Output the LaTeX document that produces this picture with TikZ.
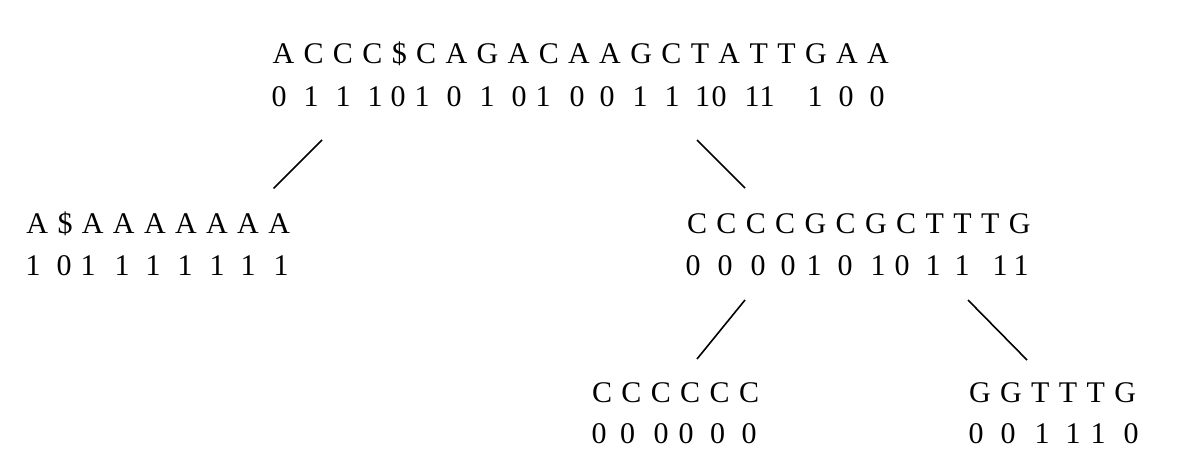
\documentclass[tikz,border=0pt]{standalone}
\usepackage{fontspec}
\setmainfont{Liberation Serif}
\begin{document}
\begin{tikzpicture}[x=1pt,y=-1pt,
  seq/.style={inner sep=0pt, outer sep=0pt, anchor=base west,
    font=\fontsize{30}{36}\selectfont, execute at begin node={\spaceskip=9.4pt\relax}},
  bit/.style={inner sep=0pt, outer sep=0pt, anchor=base,
    font=\fontsize{30}{36}\selectfont},
  edge/.style={line width=1.6pt}]
\useasboundingbox (0,0) rectangle (1194,476);
% root
\node[seq] (rootL) at (272.5,63.5) {A C C C \$ C A G A C A A G C T A T T G A A};
\foreach \x/\b [count=\i] in {279/0,311/1,343/1,375/1,398/0,422/1,454/0,487/1,519/0,543/1,577/0,607/0,640/1,672/1,702.5/1,719/0,752/1,767/1,815/1,846/0,877/0}
  \node[bit] (rootD\i) at (\x,106.5) {\b};
% left child
\node[seq] (leftL) at (26.5,233) {A \$ A A A A A A A};
\foreach \x/\b [count=\i] in {33/1,64/0,88/1,122/1,153/1,185/1,217/1,248/1,281/1}
  \node[bit] (leftD\i) at (\x,275) {\b};
% right child
\node[seq] (rightL) at (687,233) {C C C C G C G C T T T G};
\foreach \x/\b [count=\i] in {693/0,725/0,758/0,788/0,814/1,845/0,878/1,902/0,933/1,962/1,1000/1,1021/1}
  \node[bit] (rightD\i) at (\x,275) {\b};
% right-left grandchild
\node[seq] (rlL) at (592,402) {C C C C C C};
\foreach \x/\b [count=\i] in {599/0,627.5/0,661/0,686/0,717.5/0,749/0}
  \node[bit] (rlD\i) at (\x,443) {\b};
% right-right grandchild
\node[seq] (rrL) at (969,402) {G G T T T G};
\foreach \x/\b [count=\i] in {976/0,1008/0,1042/1,1073/1,1098/1,1131/0}
  \node[bit] (rrD\i) at (\x,443) {\b};
% connectors
\coordinate (e1a) at (322,140); \coordinate (e1b) at (273.5,188.5);
\coordinate (e2a) at (697,140); \coordinate (e2b) at (745,188);
\coordinate (e3a) at (745,300); \coordinate (e3b) at (697,359);
\coordinate (e4a) at (968,300); \coordinate (e4b) at (1027,360);
\draw[edge] (e1a) -- (e1b);
\draw[edge] (e2a) -- (e2b);
\draw[edge] (e3a) -- (e3b);
\draw[edge] (e4a) -- (e4b);
\end{tikzpicture}
\end{document}
